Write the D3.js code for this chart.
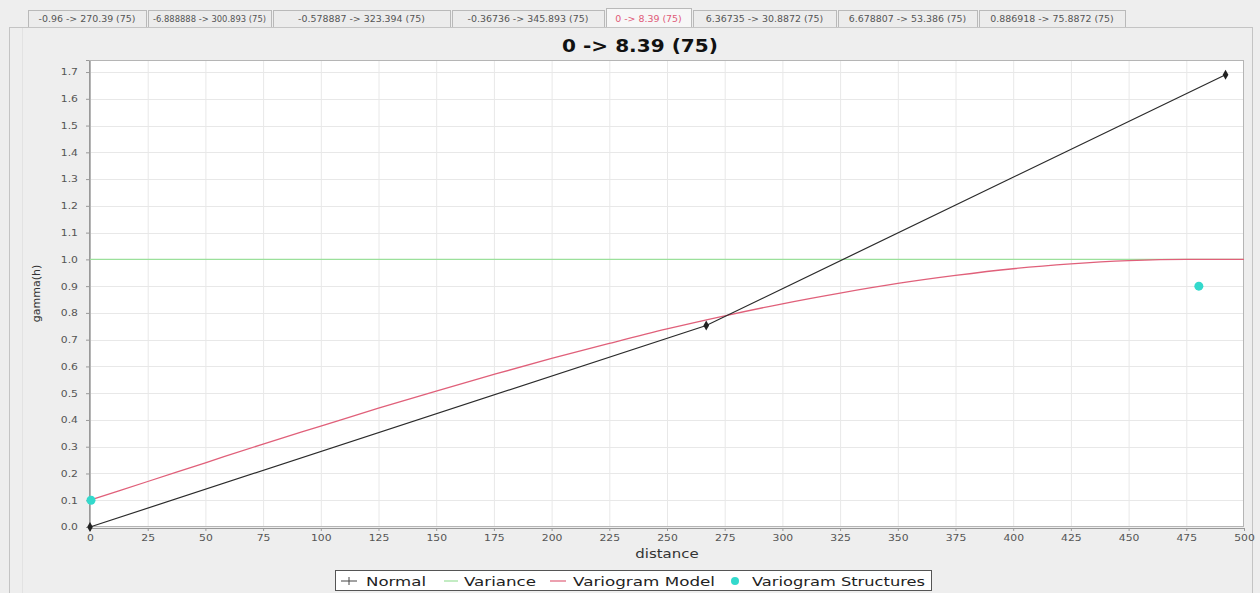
<!DOCTYPE html>
<html>
<head>
<meta charset="utf-8">
<script src="https://cdn.jsdelivr.net/npm/d3@7"></script>
<style>
  html, body { margin: 0; padding: 0; background: #eeeeee; }
  svg { display: block; }
</style>
</head>
<body>
<svg id="chart" width="1260" height="593"></svg>
<script>
// ---------- data ----------
const tabLabels = [
  "-0.96 -> 270.39 (75)",
  "-6.888888 -> 300.893 (75)",
  "-0.578887 -> 323.394 (75)",
  "-0.36736 -> 345.893 (75)",
  "0 -> 8.39 (75)",
  "6.36735 -> 30.8872 (75)",
  "6.678807 -> 53.386 (75)",
  "0.886918 -> 75.8872 (75)"
];
const selectedTab = 4;
const chartTitle = "0 -> 8.39 (75)";
const xLabel = "distance";
const yLabel = "gamma(h)";

const xTicks = d3.range(0, 501, 25);
const yTicks = d3.range(0, 17.5, 1).map(v => v / 10);

// Normal (experimental variogram)
const normalX = [0, 267, 492];
const normalY = [0, 0.753, 1.69];

// Variance
const varianceValue = 1.0;

// Variogram model
const modelX = [0, 25, 50, 75, 100, 125, 150, 175, 200, 225, 250, 275, 300, 325, 350, 375, 400, 425, 450, 475, 500];
const modelY = [0.10, 0.17, 0.24, 0.31, 0.377, 0.444, 0.508, 0.57, 0.63, 0.686, 0.74, 0.789, 0.834, 0.874, 0.91, 0.94, 0.965, 0.983, 0.995, 1.0, 1.0];

// Variogram structures
const structX = [0, 480];
const structY = [0.1, 0.9];

const legendItems = ["Normal", "Variance", "Variogram Model", "Variogram Structures"];

// ---------- drawing ----------
const svg = d3.select("#chart");
const font = "'DejaVu Sans', sans-serif";

// stretch text horizontally (reference text is wide)
function stretch(sel, k) {
  sel.each(function () {
    const w = this.getComputedTextLength();
    d3.select(this).attr("textLength", w * k).attr("lengthAdjust", "spacingAndGlyphs");
  });
}

// tab strip
const tabEdges = [28, 148, 273, 452, 606, 693, 838, 979, 1127];
const tabG = svg.append("g");
tabLabels.forEach((t, i) => {
  const x0 = tabEdges[i], x1 = tabEdges[i + 1];
  const sel = i === selectedTab;
  tabG.append("rect")
    .attr("x", x0 + 0.5).attr("y", sel ? 8.5 : 10.5)
    .attr("width", x1 - x0 - 2).attr("height", sel ? 19 : 17)
    .attr("fill", sel ? "#f7f7f7" : "#ececec")
    .attr("stroke", "#b9b9b9");
  const tx = tabG.append("text")
    .attr("x", (x0 + x1) / 2 - 1).attr("y", 22)
    .attr("text-anchor", "middle")
    .attr("font-family", font).attr("font-size", 8.2)
    .attr("fill", sel ? "#e05a78" : "#555")
    .text(t);
  const w = tx.node().getComputedTextLength();
  tx.attr("textLength", Math.min(w * 1.15, x1 - x0 - 12)).attr("lengthAdjust", "spacingAndGlyphs");
});

// panel
svg.append("rect").attr("x", 9.5).attr("y", 27.5).attr("width", 1243).attr("height", 570)
  .attr("fill", "#eeeeee").attr("stroke", "#c4c4c4");
svg.append("line").attr("x1", 22.5).attr("x2", 22.5).attr("y1", 28).attr("y2", 593)
  .attr("stroke", "#e2e2e2");

// title
svg.append("text").attr("x", 640).attr("y", 52).attr("text-anchor", "middle")
  .attr("font-family", font).attr("font-weight", "bold").attr("font-size", 17)
  .attr("fill", "#111").text(chartTitle)
  .call(stretch, 1.18);

const pLeft = 90, pRight = 1244, pTop = 60, pBottom = 527;
const x = d3.scaleLinear().domain([0, 500]).range([pLeft, pRight]);
const y = d3.scaleLinear().domain([0, 1.745]).range([pBottom, pTop]);

// plot background
svg.append("rect").attr("x", pLeft).attr("y", pTop).attr("width", pRight - pLeft).attr("height", pBottom - pTop)
  .attr("fill", "#ffffff");

// grid
const grid = svg.append("g");
grid.selectAll("line.vx").data(xTicks.slice(1, -1)).enter().append("line")
  .attr("x1", d => x(d) + 0.5).attr("x2", d => x(d) + 0.5)
  .attr("y1", pTop).attr("y2", pBottom)
  .attr("stroke", "#e8e8e8").attr("stroke-width", 1);
grid.selectAll("line.hy").data(yTicks.slice(1)).enter().append("line")
  .attr("x1", pLeft).attr("x2", pRight)
  .attr("y1", d => Math.round(y(d)) + 0.5).attr("y2", d => Math.round(y(d)) + 0.5)
  .attr("stroke", "#e8e8e8").attr("stroke-width", 1);

// plot border
svg.append("rect").attr("x", pLeft + 0.5).attr("y", pTop + 0.5).attr("width", pRight - pLeft - 1).attr("height", pBottom - pTop - 1)
  .attr("fill", "none").attr("stroke", "#b5b5b5");

// axes
const xAxis = svg.append("g").attr("transform", `translate(0,${pBottom + 1})`)
  .call(d3.axisBottom(x).tickValues(xTicks).tickFormat(d3.format("d")).tickSize(3).tickPadding(4));
const yAxis = svg.append("g").attr("transform", `translate(${pLeft - 1},0)`)
  .call(d3.axisLeft(y).tickValues(yTicks).tickFormat(d3.format(".1f")).tickSize(3).tickPadding(8));
[xAxis, yAxis].forEach(a => {
  a.selectAll("text").attr("font-family", font).attr("font-size", 9).attr("fill", "#555").call(stretch, 1.2);
  a.selectAll("line").attr("stroke", "#999");
  a.select(".domain").attr("stroke", "#999");
});

// axis labels
svg.append("text").attr("x", (pLeft + pRight) / 2).attr("y", 558).attr("text-anchor", "middle")
  .attr("font-family", font).attr("font-size", 11.5).attr("fill", "#333").text(xLabel)
  .call(stretch, 1.3);
svg.append("text").attr("transform", `translate(40,${(pTop + pBottom) / 2}) rotate(-90)`)
  .attr("text-anchor", "middle")
  .attr("font-family", font).attr("font-size", 11).attr("fill", "#333").text(yLabel);

// series
const plot = svg.append("g");
// variance
plot.append("line").attr("x1", x(0)).attr("x2", x(500))
  .attr("y1", y(varianceValue)).attr("y2", y(varianceValue))
  .attr("stroke", "#9be09b").attr("stroke-width", 1.2);

// model
const modelLine = d3.line().x(d => x(d[0])).y(d => y(d[1])).curve(d3.curveMonotoneX);
plot.append("path").datum(modelX.map((v, i) => [v, modelY[i]]))
  .attr("d", modelLine).attr("fill", "none").attr("stroke", "#e0607a").attr("stroke-width", 1.3);

// normal
const normLine = d3.line().x(d => x(d[0])).y(d => y(d[1]));
const normPts = normalX.map((v, i) => [v, normalY[i]]);
plot.append("path").datum(normPts).attr("d", normLine)
  .attr("fill", "none").attr("stroke", "#2b2b2b").attr("stroke-width", 1.2);
plot.selectAll("path.mk").data(normPts).enter().append("path")
  .attr("transform", d => `translate(${x(d[0])},${y(d[1])})`)
  .attr("d", d3.symbol().type(d3.symbolDiamond).size(28))
  .attr("fill", "#222");

// structures
plot.selectAll("circle.st").data(structX.map((v, i) => [v, structY[i]])).enter().append("circle")
  .attr("cx", d => x(d[0]) + 1).attr("cy", d => y(d[1]))
  .attr("r", 4.5).attr("fill", "#33d9cc");

// legend
const lg = svg.append("g");
lg.append("rect").attr("x", 335.5).attr("y", 570.5).attr("width", 596).attr("height", 20)
  .attr("fill", "#ffffff").attr("stroke", "#555");
const lineStart = [341, 444, 550, 728];
const textStart = [366, 464, 573, 752];
const textWidth = [60, 72, 142, 173];
// Normal
lg.append("line").attr("x1", lineStart[0]).attr("x2", lineStart[0] + 16).attr("y1", 581).attr("y2", 581).attr("stroke", "#444");
lg.append("line").attr("x1", lineStart[0] + 8).attr("x2", lineStart[0] + 8).attr("y1", 577).attr("y2", 585).attr("stroke", "#444");
// Variance
lg.append("line").attr("x1", lineStart[1]).attr("x2", lineStart[1] + 14).attr("y1", 581).attr("y2", 581).attr("stroke", "#9be09b").attr("stroke-width", 1.2);
// Model
lg.append("line").attr("x1", lineStart[2]).attr("x2", lineStart[2] + 16).attr("y1", 581).attr("y2", 581).attr("stroke", "#e0607a").attr("stroke-width", 1.2);
// Structures
lg.append("circle").attr("cx", lineStart[3] + 7).attr("cy", 581).attr("r", 4).attr("fill", "#33d9cc");
legendItems.forEach((t, i) => {
  lg.append("text").attr("x", textStart[i]).attr("y", 585.5)
    .attr("font-family", font).attr("font-size", 12.5).attr("fill", "#222").text(t)
    .attr("textLength", textWidth[i]).attr("lengthAdjust", "spacingAndGlyphs");
});
</script>
</body>
</html>
